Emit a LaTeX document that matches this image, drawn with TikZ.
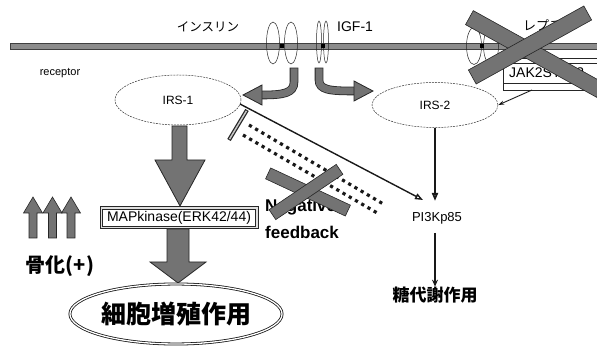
\documentclass[tikz,border=0pt]{standalone}
\usepackage{fontspec}
\setmainfont{Liberation Sans}
\newfontfamily\jp{Noto Sans CJK JP}
\usetikzlibrary{arrows.meta,shapes.geometric,calc}
\tikzset{
  memb/.style={fill=black!45, draw=black!75, line width=0.5pt},
  recp/.style={ellipse, draw=black!85, line width=0.5pt, inner sep=0pt},
  irs/.style={ellipse, draw=black!80, dash pattern=on 2pt off 1pt, line width=0.5pt, inner sep=0pt, font=\fontsize{12}{14}\selectfont},
  garrow/.style={draw=black!85, line width=0.8pt, double=black!55, double distance=7pt, line cap=rect},
  ghead/.style={fill=black!55, draw=black!85, line width=0.8pt, line join=miter},
  bigarrow/.style={fill=black!55, draw=black!85, line width=0.8pt, line join=miter},
  xbar/.style={rectangle, fill=black!55, draw=black!85, line width=0.6pt, inner sep=0pt},
  dotrow/.style={line width=3.2pt, dash pattern=on 3.2pt off 4pt, black!90},
  thinarrow/.style={line width=1.4pt, black!90, -{Triangle[open, length=8pt, width=6pt]}},
  lbl/.style={inner sep=0pt},
}
\begin{document}
\begin{tikzpicture}[x=1pt,y=-1pt]
\useasboundingbox (0,0) rectangle (597,347);
\clip (0,0) rectangle (597,347);

% membrane
\fill[memb] (10,43) rectangle (600,49);

% texts on membrane
\node[lbl, font=\jp\fontsize{12.5}{14}\selectfont] (ins) at (208,27) {インスリン};
\node[lbl, font=\fontsize{14}{16}\selectfont, anchor=west] (igf) at (337,27) {IGF-1};
\node[lbl, font=\jp\fontsize{13}{15}\selectfont, anchor=west] (lep) at (523,25) {レプチン};
\node[lbl, font=\fontsize{11}{13}\selectfont] (rec) at (60,73) {receptor};

% receptors
\node[recp, minimum width=13pt, minimum height=42pt] (ir1) at (273,43) {};
\node[recp, minimum width=13pt, minimum height=42pt] (ir2) at (291,43) {};
\node[recp, minimum width=5pt, minimum height=42pt] (gr1) at (319,42) {};
\node[recp, minimum width=5pt, minimum height=42pt] (gr2) at (326,42) {};
\node[recp, minimum width=15pt, minimum height=37pt] (lr1) at (474,46) {};
\node[recp, minimum width=15pt, minimum height=37pt] (lr2) at (491,46) {};
\fill[black] (280,44) rectangle (284,48);
\fill[black] (320.5,44) rectangle (324.5,48);
\fill[black] (480,44) rectangle (484,48);

% JAK2STAT box
\draw[black!85, line width=0.6pt] (505,58) -- (600,58);
\node[rectangle, draw=black!85, line width=0.6pt, anchor=north west, fill=white,
      minimum width=110pt, minimum height=20pt, inner sep=0pt] (jakbox) at (503,63) {};
\node[lbl, font=\fontsize{14}{16}\selectfont, anchor=west] (jak) at (509,73) {JAK2STAT3};
\draw[black!85, line width=0.6pt] (jakbox.south west) -- ++(0,7) -- ++(110,0);

% IRS ellipses
\node[irs, minimum width=126pt, minimum height=50pt] (irs1) at (178,100) {IRS-1};
\node[irs, minimum width=126pt, minimum height=45pt] (irs2) at (435,105) {IRS-2};

% curved grey arrows from receptors
\coordinate (ia0) at (294,72);
\coordinate (ia1) at (262,95);
\draw[garrow] (ia0) -- (294,82) .. controls (294,93) and (284,95) .. (ia1);
\filldraw[ghead] (262,85) -- (243,95) -- (262,105) -- cycle;
\coordinate (ga0) at (319,72);
\coordinate (ga1) at (354,91);
\draw[garrow] (ga0) -- (319,80) .. controls (319,90) and (330,91) .. (ga1);
\filldraw[ghead] (354,81) -- (373,91) -- (354,101) -- cycle;

% JAK arrow to IRS-2
\coordinate (jk) at (532,90);
\draw[line width=0.9pt, black!90, -{Stealth[length=6pt, width=4pt]}] (jk) -- (irs2.east);

% MAPkinase box
\node[rectangle, draw=black!85, line width=0.7pt, fill=gray!25,
      minimum width=158pt, minimum height=22pt, inner sep=0pt] (mapframe) at (179,217.5) {};
\node[rectangle, draw=black!85, line width=0.6pt, fill=white,
      minimum width=153pt, minimum height=17pt, inner sep=0pt,
      font=\fontsize{14}{16}\selectfont] (map) at (179,217.5) {MAPkinase(ERK42/44)};

% big arrow IRS-1 -> MAP
\filldraw[bigarrow] (172,126) -- (187,126) -- (187,160) -- (205,160) -- (180,206) -- (155,160) -- (172,160) -- cycle;
% big arrow MAP -> cell
\filldraw[bigarrow] (167,229) -- (189,229) -- (189,262) -- (206,262) -- (178,283) -- (150,262) -- (167,262) -- cycle;

% cell proliferation ellipse
\node[ellipse, draw=black!90, double, double distance=1.3pt, line width=0.8pt, inner sep=0pt,
      minimum width=192pt, minimum height=60pt, font=\jp\bfseries\fontsize{25}{28}\selectfont] (cell) at (176,314) {細胞増殖作用};

% three up arrows
\foreach \cx in {33, 52.5, 71}{
  \filldraw[bigarrow, line width=0.6pt] (\cx-4,238) -- (\cx-4,213) -- (\cx-9.5,213) -- (\cx,197) -- (\cx+9.5,213) -- (\cx+4,213) -- (\cx+4,238) -- cycle;
}
\node[lbl, font=\jp\bfseries\fontsize{20}{22}\selectfont] (bone) at (60,266) {骨化(+)};

% negative feedback
\coordinate (nb1) at (247,110);
\coordinate (nb2) at (229,140);
\draw[line width=4pt, black!85] (nb1) -- (nb2);
\draw[line width=1.5pt, gray!45, shorten >=1pt, shorten <=1pt] (nb1) -- (nb2);
\coordinate (d1a) at (249,125);
\coordinate (d1b) at (385,205);
\coordinate (d2a) at (243,135);
\coordinate (d2b) at (379,214);
\draw[dotrow] (d1a) -- (d1b);
\draw[dotrow] (d2a) -- (d2b);

\node[lbl, font=\bfseries\fontsize{17}{19}\selectfont, anchor=west] (neg) at (265,207) {Negative};
\node[lbl, font=\bfseries\fontsize{17}{19}\selectfont, anchor=west] (fb) at (265,232) {feedback};

% PI3K and sugar metabolism
\node[lbl, font=\fontsize{13}{15}\selectfont] (pi3k) at (437,218) {PI3Kp85};
\node[lbl, font=\jp\bfseries\fontsize{17}{19}\selectfont] (sugar) at (435,295) {糖代謝作用};
\coordinate (i1s) at (240,104);
\coordinate (pt) at (423,200);
\draw[thinarrow] (i1s) -- (pt);
\draw[thinarrow, line width=1.8pt] (irs2.south) -- (435,201);
\draw[line width=1.8pt, black!90, -{Stealth[length=7pt, width=6pt]}] (435,233) -- (sugar.north);

% crosses
\node[xbar, minimum width=88pt, minimum height=12pt, rotate=-25] (nx1) at (308,192) {};
\node[xbar, minimum width=81pt, minimum height=12pt, rotate=34] (nx2) at (306,192) {};
\node[xbar, minimum width=150pt, minimum height=16pt, rotate=-29] (lx1) at (535,54) {};
\node[xbar, minimum width=132pt, minimum height=16pt, rotate=29] (lx2) at (530,45) {};
\end{tikzpicture}
\end{document}
